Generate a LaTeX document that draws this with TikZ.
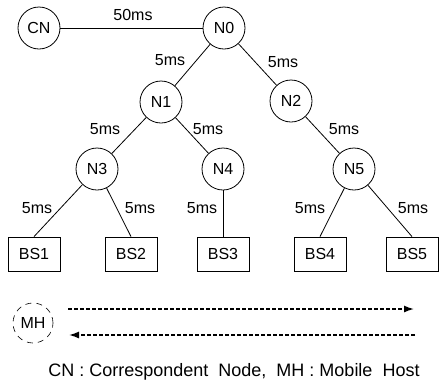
\documentclass[tikz,border=0pt]{standalone}
\usepackage{fontspec}
\setmainfont{Liberation Sans}
\usetikzlibrary{arrows.meta}
\begin{document}
\begin{tikzpicture}[x=1pt,y=-1pt,
  router/.style={draw,circle,line width=0.8pt,minimum size=42pt,inner sep=0pt,font=\fontsize{16}{16}\selectfont},
  bsbox/.style={draw,rectangle,line width=0.8pt,minimum width=52pt,minimum height=34pt,inner sep=0pt,font=\fontsize{16}{16}\selectfont},
  link/.style={line width=0.8pt},
  lbl/.style={font=\fontsize{16}{16}\selectfont,inner sep=0pt},
  msg/.style={line width=1.4pt,dash pattern=on 4pt off 2pt,-{Latex[length=10pt,width=7pt]}}]
\useasboundingbox (0,0) rectangle (439,389);
\node[router] (CN) at (39,28) {CN};
\node[router] (N0) at (224,28) {N0};
\node[router] (N1) at (161,102) {N1};
\node[router] (N2) at (291,101) {N2};
\node[router] (N3) at (97,169) {N3};
\node[router] (N4) at (223,169) {N4};
\node[router] (N5) at (354,169) {N5};
\node[bsbox] (BS1) at (34,254) {BS1};
\node[bsbox] (BS2) at (131,254) {BS2};
\node[bsbox] (BS3) at (223,254) {BS3};
\node[bsbox] (BS4) at (320,254) {BS4};
\node[bsbox] (BS5) at (412,254) {BS5};
\draw[link] (CN) -- (N0);
\draw[link] (N0) -- (N1);
\draw[link] (N0) -- (N2);
\draw[link] (N1) -- (N3);
\draw[link] (N1) -- (N4);
\draw[link] (N2) -- (N5);
\draw[link] (N3) -- (BS1.north);
\draw[link] (N3) -- (BS2.north);
\draw[link] (N4) -- (BS3.north);
\draw[link] (N5) -- (BS4.north);
\draw[link] (N5) -- (BS5.north);
\node[lbl] (l0) at (133,15) {50ms};
\node[lbl] (l1) at (170,60) {5ms};
\node[lbl] (l2) at (283,62) {5ms};
\node[lbl] (l3) at (105,129) {5ms};
\node[lbl] (l4) at (208,129) {5ms};
\node[lbl] (l5) at (344,129) {5ms};
\node[lbl] (l6) at (37,208) {5ms};
\node[lbl] (l7) at (140,208) {5ms};
\node[lbl] (l8) at (202,208) {5ms};
\node[lbl] (l9) at (310,208) {5ms};
\node[lbl] (l10) at (413,208) {5ms};
\node[router,line width=0.6pt,dash pattern=on 6pt off 5pt,minimum size=40pt] (MH) at (33,323) {MH};
\coordinate (a1s) at (68,309);
\coordinate (a1e) at (414,309);
\coordinate (a2s) at (415,335);
\coordinate (a2e) at (69,335);
\draw[msg] (a1s) -- (a1e);
\draw[msg] (a2s) -- (a2e);
\node[font=\fontsize{18}{18}\selectfont,inner sep=0pt] (cap) at (234,372) {CN : Correspondent\ \ Node,\ \ MH : Mobile\ \ Host};
\end{tikzpicture}
\end{document}
